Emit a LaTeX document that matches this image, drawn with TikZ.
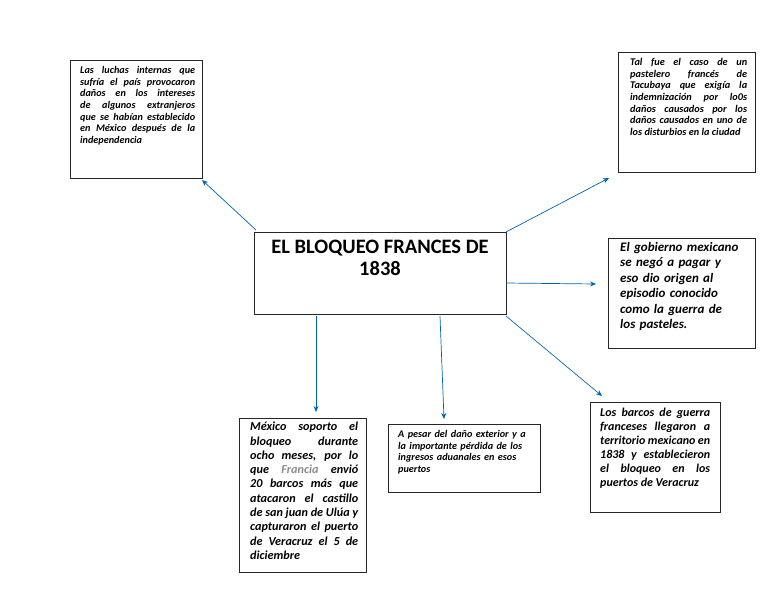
\documentclass[tikz,border=0pt]{standalone}
\usepackage{fontspec}
\setmainfont{Carlito}
\usetikzlibrary{arrows.meta}
\begin{document}
\begin{tikzpicture}[x=1pt,y=-1pt,
  box/.style={draw=black!85,line width=0.8pt,inner sep=0},
  txt/.style={anchor=north west,inner sep=0,align=justify,font=\bfseries\itshape},
  arr/.style={draw=blue!45!cyan!70!black,line width=0.7pt,-{Stealth[length=6pt,width=5pt]}}]
\useasboundingbox (0,0) rectangle (768,594);
\newcommand\nohy{\hyphenpenalty=10000\exhyphenpenalty=10000\tolerance=9999\emergencystretch=20pt}
\draw[box] (70,60) rectangle (202,178);
\node[txt,text width=115pt,font=\bfseries\itshape\fontsize{10.2}{11.7}\selectfont\nohy] (t1) at (80,66) {Las luchas internas que sufría el país provocaron daños en los intereses de algunos extranjeros que se habían establecido en México después de la \mbox{independencia}\hfill\null};
\coordinate (a1) at (202,180);
\draw[box] (618,52) rectangle (755,172);
\node[txt,text width=117pt,font=\bfseries\itshape\fontsize{10.3}{11.7}\selectfont\nohy] (t2) at (630,58) {Tal fue el caso de un pastelero francés de Tacubaya que exigía la indemnización por lo0s daños causados por los daños causados en uno de los disturbios en la ciudad};
\coordinate (a2) at (609,178);
\draw[box] (254,232) rectangle (506,314);
\node[inner sep=0,align=center,font=\bfseries\fontsize{20.5}{22}\selectfont] (c) at (380,258) {EL BLOQUEO FRANCES DE\\1838};
\draw[box] (608,238) rectangle (755,348);
\node[txt,text width=125pt,align=left,font=\bfseries\itshape\fontsize{13}{15.5}\selectfont\nohy] (t3) at (620,242) {El gobierno mexicano se negó a pagar y eso dio origen al episodio conocido como la guerra de los pasteles.};
\coordinate (a3) at (596,284);
\draw[box] (239,418) rectangle (366,572);
\node[txt,text width=108pt,font=\bfseries\itshape\fontsize{12.2}{14.3}\selectfont\nohy] (t4) at (250,422) {México soporto el bloqueo durante ocho meses, por lo que {\color{black!45}Francia} envió 20 barcos más que atacaron el castillo de san juan de Ulúa y capturaron el puerto de Veracruz el 5 de \mbox{diciembre}\hfill\null};
\coordinate (a4) at (316,412);
\draw[box] (388,424) rectangle (540,492);
\node[txt,text width=135pt,align=left,font=\bfseries\itshape\fontsize{10.2}{11.7}\selectfont\nohy] (t5) at (398,430) {A pesar del daño exterior y a la importante pérdida de los ingresos aduanales en esos puertos};
\coordinate (a5) at (444,419);
\draw[box] (590,402) rectangle (720,512);
\node[txt,text width=110pt,font=\bfseries\itshape\fontsize{12}{14}\selectfont\nohy] (t6) at (600,408) {Los barcos de guerra franceses llegaron a territorio mexicano en 1838 y establecieron el bloqueo en los puertos de \mbox{Veracruz}\hfill\null};
\coordinate (a6) at (602,396);
\coordinate (s1) at (256,230);
\coordinate (s2) at (506,232);
\coordinate (s3) at (506,283);
\coordinate (s4) at (506,316);
\coordinate (s5) at (316,316);
\coordinate (s6) at (440,316);
\draw[arr] (s1) -- (a1);
\draw[arr] (s2) -- (a2);
\draw[arr] (s3) -- (a3);
\draw[arr] (s4) -- (a6);
\draw[arr] (s5) -- (a4);
\draw[arr] (s6) -- (a5);
\end{tikzpicture}
\end{document}
